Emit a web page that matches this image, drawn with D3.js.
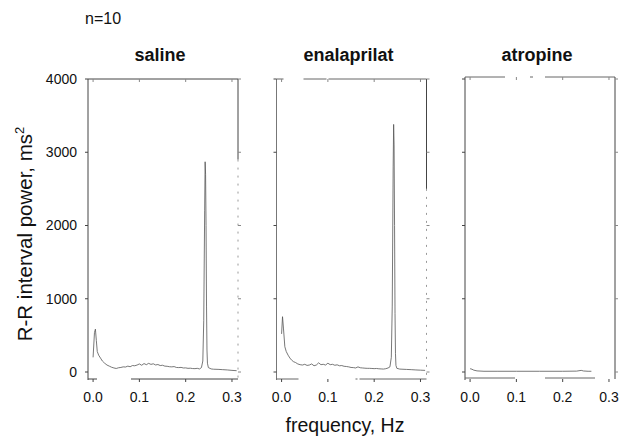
<!DOCTYPE html>
<html>
<head>
<meta charset="utf-8">
<script src="https://cdn.jsdelivr.net/npm/d3@7"></script>
<style>
  body { margin: 0; background: #fff; }
  text { font-family: "Liberation Sans", Arial, sans-serif; fill: #111; }
</style>
</head>
<body>
<div id="chart"></div>
<script>
// panel titles
const treatments = ["saline", "enalaprilat", "atropine"];
const freqTicks = [0.0, 0.1, 0.2, 0.3];
const powerTicks = [0, 1000, 2000, 3000, 4000];

// averaged R-R interval spectra (freq Hz, power ms^2)
const salineSpectrum = [
  [0.000, 200], [0.003, 540], [0.005, 585], [0.007, 430], [0.009, 280], [0.012, 230],
  [0.016, 190], [0.020, 150], [0.025, 120], [0.030, 95], [0.035, 80], [0.040, 65],
  [0.045, 55], [0.050, 48], [0.055, 58], [0.060, 62], [0.065, 70], [0.070, 68],
  [0.075, 80], [0.080, 72], [0.085, 88], [0.090, 85], [0.095, 95], [0.100, 110],
  [0.105, 92], [0.110, 115], [0.115, 100], [0.120, 118], [0.125, 104], [0.130, 112],
  [0.135, 96], [0.140, 102], [0.145, 88], [0.150, 92], [0.155, 80], [0.160, 78],
  [0.165, 72], [0.170, 70], [0.175, 74], [0.180, 62], [0.185, 60], [0.190, 63],
  [0.195, 55], [0.200, 56], [0.205, 50], [0.210, 52], [0.215, 47], [0.220, 46],
  [0.225, 50], [0.230, 42], [0.234, 60], [0.237, 150], [0.239, 700], [0.241, 2200],
  [0.242, 2870], [0.243, 2700], [0.244, 2000], [0.245, 900], [0.246, 300], [0.247, 120],
  [0.249, 60], [0.255, 42], [0.260, 38], [0.270, 36], [0.280, 32], [0.290, 28],
  [0.300, 22], [0.310, 18]
];
const enalaprilatSpectrum = [
  [0.000, 520], [0.002, 755], [0.004, 600], [0.007, 345], [0.010, 280], [0.014, 230],
  [0.018, 190], [0.022, 160], [0.026, 140], [0.030, 130], [0.035, 110], [0.040, 100],
  [0.045, 95], [0.050, 105], [0.055, 90], [0.060, 95], [0.065, 110], [0.070, 85],
  [0.075, 95], [0.080, 125], [0.085, 100], [0.090, 105], [0.095, 95], [0.100, 120],
  [0.105, 100], [0.110, 105], [0.115, 92], [0.120, 98], [0.125, 85], [0.130, 88],
  [0.135, 78], [0.140, 75], [0.145, 70], [0.150, 62], [0.155, 60], [0.160, 55],
  [0.165, 70], [0.170, 58], [0.175, 55], [0.180, 52], [0.185, 50], [0.190, 50],
  [0.195, 48], [0.200, 46], [0.205, 48], [0.210, 44], [0.215, 42], [0.220, 40],
  [0.225, 45], [0.230, 55], [0.234, 70], [0.237, 200], [0.239, 900], [0.241, 2800],
  [0.242, 3380], [0.243, 3100], [0.244, 2000], [0.245, 800], [0.246, 250], [0.247, 90],
  [0.249, 50], [0.255, 40], [0.260, 38], [0.270, 35], [0.280, 32], [0.290, 28],
  [0.300, 25], [0.310, 22]
];
const atropineSpectrum = [
  [0.000, 45], [0.004, 38], [0.008, 25], [0.015, 15], [0.030, 10], [0.060, 10],
  [0.100, 10], [0.150, 10], [0.200, 10], [0.230, 12], [0.240, 22], [0.245, 14],
  [0.255, 10], [0.262, 10]
];
const spectra = [salineSpectrum, enalaprilatSpectrum, atropineSpectrum];

const W = 621, H = 444;
const svg = d3.select("#chart").append("svg")
  .attr("width", W).attr("height", H)
  .attr("style", "background-color: white");

const panelLeft = 88, panelStep = 188.5, panelW = 150;
const plotTop = 79, zeroY = 372, axisY = 379;

const x = d3.scaleLinear().domain([-0.011, 0.313]).range([0, panelW]);
const y = d3.scaleLinear().domain([0, 4000]).range([zeroY, plotTop]);

const frameColor = "#444";
// the scanned frame lines are broken in places
const topDash = [null, "7,20,23,2,200", "40,25,3,12,200"];
const bottomDash = [null, "22,57,2,2,200", "50,30,50,200"];
const bottomOffset = [0, 0, -1];
const rightSolidTo = [2900, 2500, 0];

treatments.forEach(function(name, i) {
  const g = svg.append("g")
    .attr("transform", `translate(${panelLeft + i * panelStep}, 0)`);

  // title
  g.append("text")
    .attr("x", panelW / 2 - 3).attr("y", 61)
    .attr("text-anchor", "middle")
    .attr("font-size", 18).attr("font-weight", "bold")
    .text(name);

  const topY = i == 2 ? plotTop - 2 : plotTop;

  // frame: left, top, right (lower part faint/dotted), bottom axis line
  g.append("line").attr("x1", 0).attr("x2", 0).attr("y1", topY).attr("y2", axisY + 1)
    .attr("stroke", i == 1 ? "#777" : frameColor).attr("stroke-width", 1);
  g.append("line").attr("x1", 0).attr("x2", panelW).attr("y1", topY).attr("y2", topY)
    .attr("stroke", i == 0 ? frameColor : "#666").attr("stroke-width", 1)
    .attr("stroke-dasharray", topDash[i]);
  g.append("line").attr("x1", panelW).attr("x2", panelW).attr("y1", topY).attr("y2", y(rightSolidTo[i]))
    .attr("stroke", frameColor).attr("stroke-width", 1);
  g.append("line").attr("x1", panelW).attr("x2", panelW).attr("y1", y(rightSolidTo[i])).attr("y2", axisY)
    .attr("stroke", i == 2 ? frameColor : "#999").attr("stroke-width", 1)
    .attr("stroke-dasharray", i == 2 ? null : "2,6");
  g.append("line").attr("x1", 0).attr("x2", panelW)
    .attr("y1", axisY + bottomOffset[i]).attr("y2", axisY + bottomOffset[i])
    .attr("stroke", i == 0 ? frameColor : "#666").attr("stroke-width", 1)
    .attr("stroke-dasharray", i == 0 ? "9,34,200" : bottomDash[i]);

  // y ticks (left, outward) and right-side ticks
  powerTicks.forEach(function(v) {
    g.append("line").attr("x1", -3).attr("x2", 0).attr("y1", y(v)).attr("y2", y(v))
      .attr("stroke", frameColor);
    g.append("line").attr("x1", panelW).attr("x2", panelW + 3).attr("y1", y(v)).attr("y2", y(v))
      .attr("stroke", "#888");
    if (i == 0) {
      g.append("text")
        .attr("x", -11).attr("y", y(v)).attr("dy", "0.35em")
        .attr("text-anchor", "end").attr("font-size", 14)
        .text(v);
    }
  });

  // x ticks
  freqTicks.forEach(function(f) {
    g.append("line").attr("x1", x(f)).attr("x2", x(f)).attr("y1", axisY).attr("y2", axisY + 3)
      .attr("stroke", frameColor);
    g.append("line").attr("x1", x(f)).attr("x2", x(f)).attr("y1", topY).attr("y2", topY + 3)
      .attr("stroke", "#888");
    g.append("text")
      .attr("x", x(f)).attr("y", 402)
      .attr("text-anchor", "middle").attr("font-size", 14)
      .text(d3.format(".1f")(f));
  });

  // spectrum
  const line = d3.line()
    .x(function(d) { return x(d[0]); })
    .y(function(d) { return y(d[1]); });
  g.append("path")
    .datum(spectra[i])
    .attr("d", line)
    .attr("fill", "none")
    .attr("stroke", "#555")
    .attr("stroke-width", 0.8);
});

// annotations
svg.append("text")
  .attr("x", 85).attr("y", 24)
  .attr("font-size", 16)
  .text("n=10");

svg.append("text")
  .attr("x", 345).attr("y", 432)
  .attr("text-anchor", "middle").attr("font-size", 19.5)
  .text("frequency, Hz");

const yLab = svg.append("text")
  .attr("transform", "translate(32, 234) rotate(-90)")
  .attr("text-anchor", "middle").attr("font-size", 20.5);
yLab.append("tspan").text("R-R interval power, ms");
yLab.append("tspan").attr("dy", -8).attr("font-size", 13).text("2");
</script>
</body>
</html>
